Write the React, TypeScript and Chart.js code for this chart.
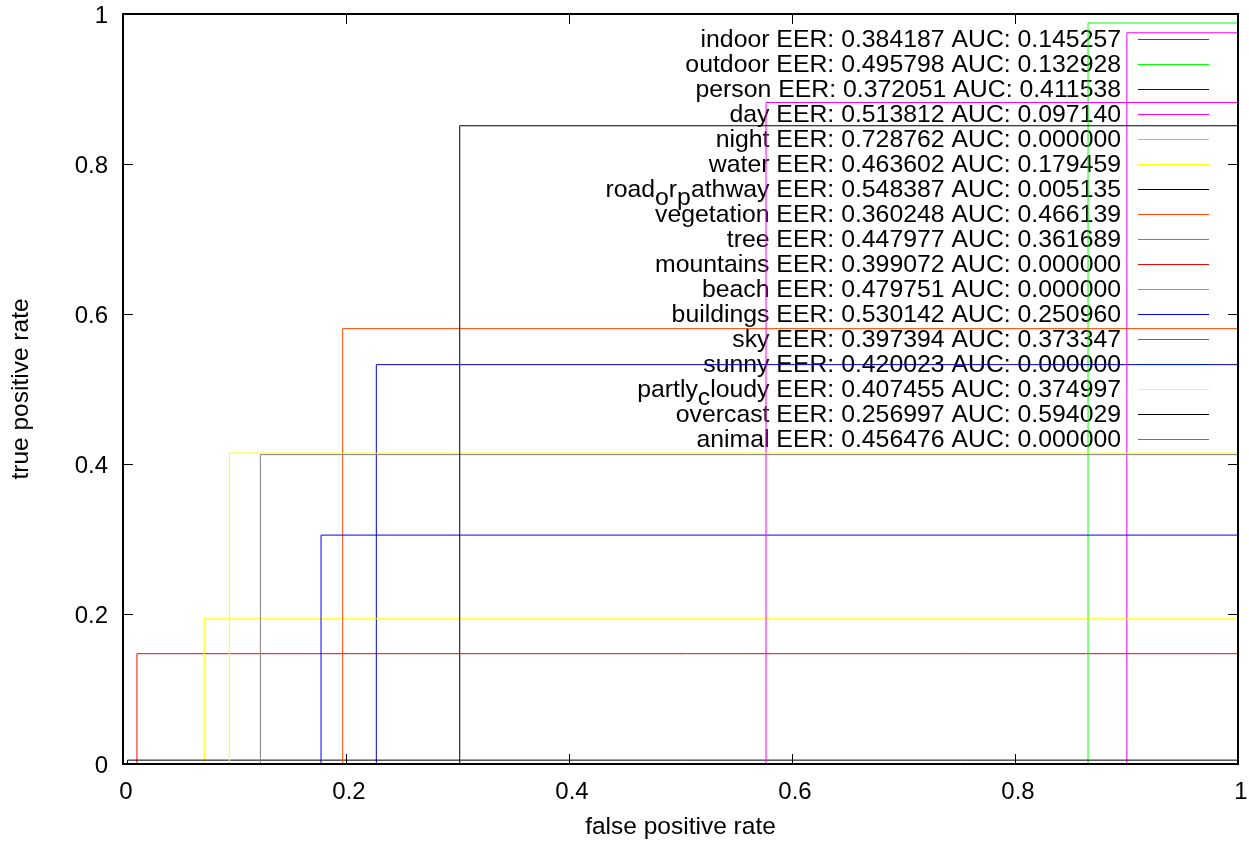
import React, { useEffect, useRef } from 'react';
import { Chart, registerables } from 'chart.js';

Chart.register(...registerables);

const FONT = '"Liberation Sans", Arial, Helvetica, sans-serif';

// class names (gnuplot enhanced text: "_x" = subscript x)
const classNames = [
  'indoor', 'outdoor', 'person', 'day', 'night', 'water', 'road_or_pathway', 'vegetation', 'tree',
  'mountains', 'beach', 'buildings', 'sky', 'sunny', 'partly_cloudy', 'overcast', 'animal',
];
const eerValues = [
  '0.384187', '0.495798', '0.372051', '0.513812', '0.728762', '0.463602', '0.548387', '0.360248', '0.447977',
  '0.399072', '0.479751', '0.530142', '0.397394', '0.420023', '0.407455', '0.256997', '0.456476',
];
const aucValues = [
  '0.145257', '0.132928', '0.411538', '0.097140', '0.000000', '0.179459', '0.005135', '0.466139', '0.361689',
  '0.000000', '0.000000', '0.250960', '0.373347', '0.000000', '0.374997', '0.594029', '0.000000',
];
// false positive rate where each ROC step rises
const stepFpr = [
  0.0125, 0.8655, 0.2272, 0.9003, 1.0, 0.0729, 0.004, 0.197, 0.1232,
  1.0, 1.0, 0.1776, 0.5767, 1.0, 0.0954, 0.302, 1.0,
];
// true positive rate reached at that step
const stepTpr = [
  0.1471, 0.988, 0.5325, 0.975, 0.0, 0.1936, 0.00516, 0.5805, 0.4125,
  0.0, 0.0, 0.3052, 0.882, 0.0, 0.4145, 0.851, 0.0,
];
const lineColors = [
  '#ff0000', '#00ff00', '#0000c0', '#ff00ff', '#00ffff', '#ffff00', '#000000', '#ff4500', '#808080',
  '#ff0000', '#00ff00', '#0000ff', '#ff00ff', '#00ffff', '#ffff00', '#000000', '#ff4500',
];
const axisTicks = [0, 0.2, 0.4, 0.6, 0.8, 1];
const xTitle = 'false positive rate';
const yTitle = 'true positive rate';

type Seg = { t: string; sub: boolean };
function parseEnhanced(s: string): Seg[] {
  const segs: Seg[] = [];
  let cur = '';
  for (let i = 0; i < s.length; i++) {
    if (s[i] === '_' && i + 1 < s.length) {
      if (cur) segs.push({ t: cur, sub: false });
      cur = '';
      segs.push({ t: s[i + 1], sub: true });
      i++;
    } else cur += s[i];
  }
  if (cur) segs.push({ t: cur, sub: false });
  return segs;
}

const decorPlugin = {
  id: 'gnuplotDecor',
  beforeDatasetsDraw(chart: any) {
    const ctx = chart.ctx as CanvasRenderingContext2D;
    ctx.save();
    const rowH = 25;
    const firstY = 39.3;
    const textRight = 1121;
    const swX0 = 1138;
    const swX1 = 1209;
    const size = 24.8;
    for (let i = 0; i < classNames.length; i++) {
      const y = firstY + i * rowH;
      const segs = parseEnhanced(classNames[i]);
      segs.push({ t: ' EER: ' + eerValues[i] + ' AUC: ' + aucValues[i], sub: false });
      ctx.font = `${size}px ${FONT}`;
      let total = 0;
      for (const s of segs) total += ctx.measureText(s.t).width;
      let x = textRight - total;
      ctx.fillStyle = '#000';
      ctx.textAlign = 'left';
      ctx.textBaseline = 'alphabetic';
      for (const s of segs) {
        ctx.fillText(s.t, x, y + 8 + (s.sub ? 8 : 0));
        x += ctx.measureText(s.t).width;
      }
      ctx.strokeStyle = lineColors[i];
      ctx.lineWidth = 1;
      ctx.beginPath();
      ctx.moveTo(swX0, Math.round(y) + 0.5);
      ctx.lineTo(swX1, Math.round(y) + 0.5);
      ctx.stroke();
    }
    ctx.restore();
  },
  afterDraw(chart: any) {
    const ctx = chart.ctx as CanvasRenderingContext2D;
    const { left, right, top, bottom } = chart.chartArea;
    const xs = chart.scales.x;
    const ys = chart.scales.y;
    ctx.save();
    ctx.strokeStyle = '#000';
    ctx.lineWidth = 1;
    const tl = 10;
    ctx.beginPath();
    for (const t of xs.ticks) {
      const px = Math.round(xs.getPixelForValue(t.value)) + 0.5;
      ctx.moveTo(px, bottom);
      ctx.lineTo(px, bottom - tl);
      ctx.moveTo(px, top);
      ctx.lineTo(px, top + tl);
    }
    for (const t of ys.ticks) {
      const py = Math.round(ys.getPixelForValue(t.value)) + 0.5;
      ctx.moveTo(left, py);
      ctx.lineTo(left + tl, py);
      ctx.moveTo(right, py);
      ctx.lineTo(right - tl, py);
    }
    ctx.stroke();
    ctx.lineWidth = 2;
    ctx.strokeRect(left, top, right - left, bottom - top);

    ctx.fillStyle = '#000';
    ctx.font = `24.5px ${FONT}`;
    ctx.textAlign = 'center';
    ctx.textBaseline = 'middle';
    ctx.fillText(xTitle, (left + right) / 2, 827);
    ctx.translate(21, (top + bottom) / 2);
    ctx.rotate(-Math.PI / 2);
    ctx.fillText(yTitle, 0, 0);
    ctx.restore();
  },
};

export default function App() {
  const ref = useRef<HTMLCanvasElement | null>(null);
  useEffect(() => {
    if (!ref.current) return;
    const datasets = classNames.map((name, i) => ({
      label: name,
      data: [
        { x: 0, y: 0 },
        { x: stepFpr[i], y: 0 },
        { x: stepFpr[i], y: stepTpr[i] },
        { x: 1, y: stepTpr[i] },
        { x: 1, y: 1 },
      ],
      showLine: true,
      borderColor: lineColors[i],
      backgroundColor: lineColors[i],
      borderWidth: 1,
      pointRadius: 0,
      tension: 0,
      fill: false,
      order: classNames.length - i,
    }));
    const tickFont = { family: FONT, size: 24 };
    const chart = new Chart(ref.current, {
      type: 'scatter',
      data: { datasets },
      options: {
        animation: false,
        responsive: false,
        maintainAspectRatio: false,
        layout: { padding: { top: 14, right: 11, left: 0, bottom: 0 } },
        plugins: { legend: { display: false }, tooltip: { enabled: false } },
        scales: {
          x: {
            type: 'linear',
            min: 0,
            max: 1,
            afterBuildTicks: (s: any) => { s.ticks = axisTicks.map((v) => ({ value: v })); },
            ticks: {
              font: tickFont,
              color: '#000',
              padding: 14,
              labelOffset: 3,
              maxRotation: 0,
              autoSkip: false,
              callback: (v: any) => String(Math.round(Number(v) * 10) / 10),
            },
            grid: { display: false, drawTicks: false },
            border: { display: false },
            afterFit: (s: any) => {
              s.height = 79;
              s.paddingLeft = 0;
              s.paddingRight = 0;
              s.paddingTop = 0;
              s.paddingBottom = 0;
            },
          },
          y: {
            type: 'linear',
            min: 0,
            max: 1,
            afterBuildTicks: (s: any) => { s.ticks = axisTicks.map((v) => ({ value: v })); },
            ticks: {
              font: tickFont,
              color: '#000',
              padding: 15,
              labelOffset: 2,
              autoSkip: false,
              callback: (v: any) => String(Math.round(Number(v) * 10) / 10),
            },
            grid: { display: false, drawTicks: false },
            border: { display: false },
            afterFit: (s: any) => {
              s.width = 123;
              s.paddingLeft = 0;
              s.paddingRight = 0;
              s.paddingTop = 0;
              s.paddingBottom = 0;
            },
          },
        },
      },
      plugins: [decorPlugin],
    } as any);
    return () => chart.destroy();
  }, []);
  return (
    <div style={{ position: 'fixed', left: 0, top: 0, width: 1249, height: 843, background: '#fff' }}>
      <canvas ref={ref} width={1249} height={843} style={{ width: 1249, height: 843, display: 'block' }} />
    </div>
  );
}
